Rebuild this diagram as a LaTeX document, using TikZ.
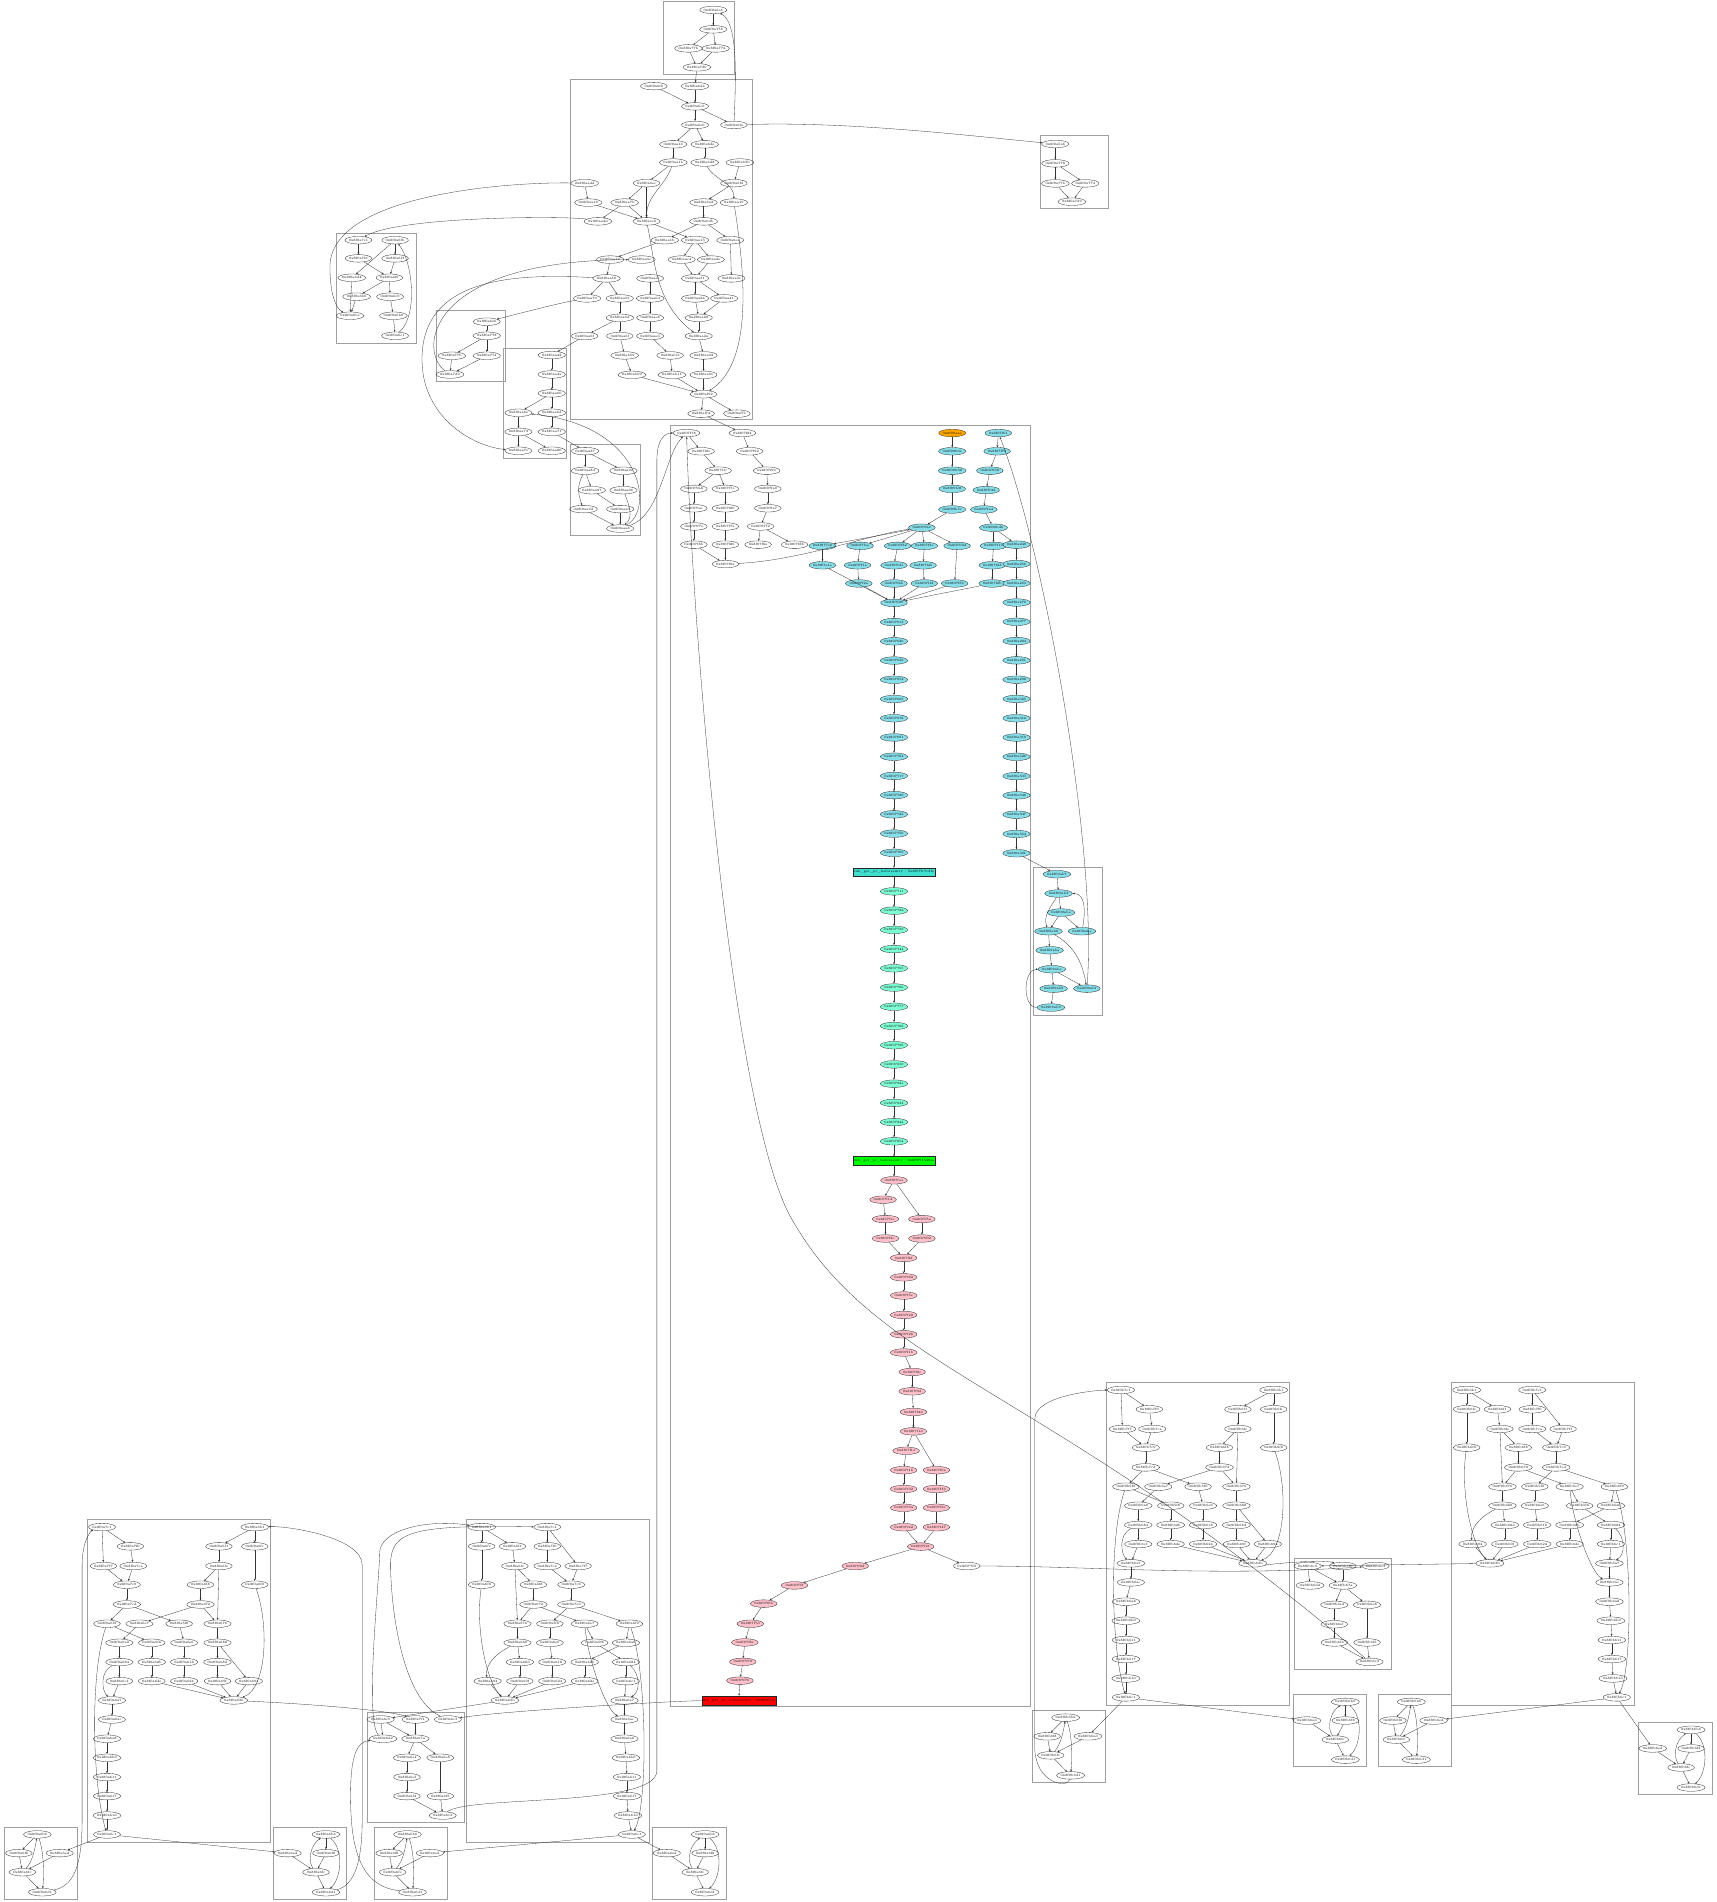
\documentclass[tikz,border=0pt]{standalone}
\usetikzlibrary{shapes.geometric,arrows.meta}
\definecolor{cyf}{HTML}{88DEE8}
\definecolor{mif}{HTML}{7FFFD4}
\definecolor{pkf}{HTML}{FFC0CB}
\definecolor{orf}{HTML}{FFA500}
\definecolor{tqf}{HTML}{40E0D0}
\definecolor{grf}{HTML}{00FF00}
\definecolor{rdf}{HTML}{FF0000}
\tikzset{
 nd/.style={ellipse,draw=black!85,line width=0.25pt,inner sep=0pt,minimum width=22pt,minimum height=6.2pt,font=\fontsize{2.7}{3}\selectfont},
 cy/.style={nd,fill=cyf},
 mi/.style={nd,fill=mif},
 pk/.style={nd,fill=pkf},
 orn/.style={nd,fill=orf},
 bx/.style={rectangle,draw=black!85,line width=0.25pt,inner sep=0.5pt,minimum width=66pt,minimum height=7pt,font=\fontsize{2.7}{3}\selectfont},
 e/.style={-{Stealth[length=1.8pt,width=1.5pt]},line width=0.25pt,draw=black!80},
 cl/.style={draw=gray!75,line width=0.6pt},
}
\newcommand\N[5][nd]{\node[#1] (#2) at (#3,#4) {#5};}
\newcommand\E[1]{\foreach \a/\b in {#1} \draw[e] (\a) -- (\b);}
\newcommand\ClI[4]{%
 \draw[cl] ({72.2+#2},{1252.8+#3}) rectangle ({222.7+#2},{1518.7+#3});
 \foreach \n/\x/\y/\l in {1/84.1/1258.9/7c1,2/107.5/1274.8/7f0,3/85.3/1291/7f7,4/109.9/1291/7ca,5/104.6/1306.4/7c9,6/104.6/1322.7/7cd,7/88.2/1338.6/6f9,8/114.9/1338.6/6e7,9/147.7/1338.6/5f0,10/98.4/1354.3/6a0,11/125.1/1354.3/5f8,12/151.8/1354.3/6e6,13/98.4/1370.2/684,14/125.1/1370.2/62b,15/151.8/1370.2/618,16/98.4/1385.9/6c1,17/125.1/1385.9/62e,18/151.8/1385.9/624,19/92.3/1401.8/6a7,20/92.3/1417.5/6ac,21/88.2/1433.4/6a8,22/88.2/1449.1/6b0,23/88.2/1465/611,24/88.2/1480.7/617,25/88.2/1496.7/61d,26/88.2/1512.3/6c1,27/210/1258.9/6b1,28/180.5/1274.8/6f1,29/210/1274.8/6fc,30/180.5/1291/6fe,31/165.3/1306.4/6f8,32/210/1306.4/6f0,33/165.3/1322.7/672,34/179.3/1338.6/676,35/179.3/1354.3/688,36/179.3/1370.2/68d,37/179.3/1385.9/69f,38/205.1/1385.9/694,39/192.8/1401.8/63b}
  {\node[nd] (#1\n) at ({\x+#2},{\y+#3}) {#4\l};}
 \foreach \a/\b in {1/2,1/3,2/4,3/5,4/5,5/6,6/7,6/9,27/28,27/29,28/30,30/31,31/33,33/8,33/34,7/11,8/10,9/12,34/35,10/13,11/14,12/15,35/36,35/38,13/16,14/17,15/18,36/37,16/19,17/39,18/39,37/39,38/39,19/20,20/21,21/22,22/23,23/24,24/25,25/26}
  {\draw[e] (#1\a) -- (#1\b);}
 \draw[e] (#130) -- (#134);
 \draw[e] (#129) -- (#132);
 \draw[e] (#132) .. controls ({222+#2},{1340+#3}) and ({220+#2},{1392+#3}) .. (#139);
 \draw[e] (#113) .. controls ({82+#2},{1378+#3}) and ({84+#2},{1394+#3}) .. (#119);
 \draw[e] (#17) .. controls ({74+#2},{1380+#3}) and ({76+#2},{1470+#3}) .. (#126);
}
\newcommand\ClN[4]{%
 \draw[cl] ({384.8+#2},{1252.8+#3}) rectangle ({535.3+#2},{1518.7+#3});
 \foreach \n/\x/\y/\l in {1/397.1/1258.9/6b1,2/451.2/1258.9/7c1,3/397.1/1274.8/6fc,4/422.5/1274.8/6f1,5/451.2/1274.8/7f0,6/424.5/1291/6fe,7/451.2/1291/7ca,8/476.6/1291/7f7,9/397.1/1306.4/6f0,10/439.7/1306.4/6f8,11/470.9/1306.4/7c9,12/439.7/1322.7/672,13/470.9/1322.7/7cd,14/426.6/1338.6/676,15/453.3/1338.6/5f0,16/482/1338.6/6e7,17/518.9/1338.6/6f9,18/426.6/1354.3/688,19/453.3/1354.3/6e6,20/490.2/1354.3/5f8,21/516/1354.3/6a0,22/428.6/1370.2/68d,23/455.3/1370.2/618,24/482/1370.2/62b,25/516/1370.2/684,26/402/1385.9/694,27/428.6/1385.9/69f,28/455.3/1385.9/624,29/482/1385.9/62e,30/516/1385.9/6c1,31/416.3/1401.8/63b,32/514.8/1401.8/6a7,33/514.8/1417.5/6ac,34/514.8/1433.4/6a8,35/516/1449.1/6b0,36/516.8/1465/611,37/516.8/1480.7/617,38/517.7/1496.7/61d,39/520.9/1512.3/6c1}
  {\node[nd] (#1\n) at ({\x+#2},{\y+#3}) {#4\l};}
 \foreach \a/\b in {1/3,1/4,4/6,6/10,10/12,12/14,12/16,2/5,2/8,5/7,7/11,8/11,11/13,13/15,13/17,14/18,18/22,15/19,19/23,23/28,16/20,17/21,21/24,20/25,22/27,24/29,25/30,26/31,27/31,28/31,29/31,30/32,32/33,33/34,34/35,35/36,36/37,37/38,38/39}
  {\draw[e] (#1\a) -- (#1\b);}
 \draw[e] (#13) -- (#19);
 \draw[e] (#16) -- (#114);
 \draw[e] (#19) .. controls ({392+#2},{1340+#3}) and ({400+#2},{1385+#3}) .. (#131);
 \draw[e] (#118) .. controls ({405+#2},{1365+#3}) and ({400+#2},{1375+#3}) .. (#126);
 \draw[e] (#116) .. controls ({485+#2},{1370+#3}) and ({500+#2},{1410+#3}) .. (#133);
 \draw[e] (#117) .. controls ({534+#2},{1380+#3}) and ({534+#2},{1490+#3}) .. (#139);
 \draw[e] (#125) .. controls ({528+#2},{1380+#3}) and ({528+#2},{1395+#3}) .. (#132);
}
\newcommand\SmA[4]{%
 \draw[cl] (#2,#3) rectangle ++(60.3,59.1);
 \foreach \n/\x/\y/\l in {1/27.5/6/6b6,2/12.3/21.4/6f8,3/45.9/21.4/6ed,4/15.2/37.1/6fc,5/31.6/53.6/6d1}
  {\node[nd] (#1\n) at ({#2+\x},{#3+\y}) {#4\l};}
 \foreach \a/\b in {1/2,2/4,3/4,4/5}{\draw[e] (#1\a) -- (#1\b);}
 \draw[e] (#14) .. controls ({#2+24},{#3+28}) and ({#2+26},{#3+15}) .. (#11);
 \draw[e] (#11) .. controls ({#2+33},{#3+20}) and ({#2+33},{#3+40}) .. (#15);
}
\newcommand\SmB[4]{%
 \draw[cl] (#2,#3) rectangle ++(60.3,59.1);
 \foreach \n/\x/\y/\l in {1/43.1/6/6b6,2/43.1/21.4/6f8,3/11.5/21.4/6ed,4/34.9/37.1/6fc,5/43.1/53.6/6d1}
  {\node[nd] (#1\n) at ({#2+\x},{#3+\y}) {#4\l};}
 \foreach \a/\b in {1/2,2/4,3/4,4/5}{\draw[e] (#1\a) -- (#1\b);}
 \draw[e] (#14) .. controls ({#2+28},{#3+28}) and ({#2+30},{#3+15}) .. (#11);
 \draw[e] (#11) .. controls ({#2+58},{#3+18}) and ({#2+56},{#3+42}) .. (#15);
}
\begin{document}
\begin{tikzpicture}[x=1pt,y=-1pt]
\useasboundingbox (0,0) rectangle (1415,1568);
% ---------------- cluster A
\draw[cl] (547,1.5) rectangle (605.5,61);
\N{a1}{588}{8.2}{0x8f0a6e6}
\N{a2}{588}{24.2}{0x8f0a778}
\N{a3}{567.6}{39.9}{0x8f0a77b}
\N{a4}{590}{39.9}{0x8f0a774}
\N{a5}{574.5}{55.5}{0x8f0a7d9}
\E{a1/a2,a2/a3,a2/a4,a3/a5,a4/a5}
% ---------------- cluster R
\draw[cl] (857.6,111.3) rectangle (913.9,171.8);
\N{r1}{870}{118.7}{0x8f0a6a6}
\N{r2}{870}{134.7}{0x8f0a778}
\N{r3}{870}{151.2}{0x8f0a77b}
\N{r4}{894.7}{151.2}{0x8f0a774}
\N{r5}{883.7}{166.3}{0x8f0a7d9}
\E{r1/r2,r2/r3,r2/r4,r3/r5,r4/r5}
% ---------------- cluster B
\draw[cl] (470,65.5) rectangle (620.5,346);
\N{b1}{539}{71}{0x8f0a6f0}
\N{b2}{573}{71}{0x8f0a6d4}
\N{b3}{573}{87.7}{0x8f0a6c6}
\N{b4}{605}{103}{0x8f0a6fa}
\N{b5}{573}{103}{0x8f0a6e0}
\N{b6}{555}{119}{0x8f0aa16}
\N{b7}{581}{119}{0x8f0a6de}
\N{b8}{555}{134}{0x8f0aa1b}
\N{b9}{581}{134}{0x8f0a6d8}
\N{b10}{610}{134}{0x8f0a63b}
\N{b11}{482}{151}{0x8f0aa4d}
\N{b12}{533}{151}{0x8f0a6ec}
\N{b13}{605}{151}{0x8f0a6f4}
\N{b14}{485}{167}{0x8f0aa10}
\N{b15}{515}{167}{0x8f0aa7b}
\N{b16}{580}{167}{0x8f0a6a2}
\N{b17}{605}{167}{0x8f0aa19}
\N{b18}{493}{182.5}{0x8f0aa4d}
\N{b19}{533}{182.5}{0x8f0aac0}
\N{b20}{580}{182.5}{0x8f0a6db}
\N{b21}{548}{198}{0x8f0aa1b}
\N{b22}{573}{198}{0x8f0aa13}
\N{b23}{602}{198}{0x8f0a6ea}
\N{b24}{503}{214}{0x8f0aa12}
\N{b25}{529}{214}{0x8f0aa5c}
\N{b26}{562}{214}{0x8f0aac4}
\N{b27}{586}{214}{0x8f0aa2e}
\N{b28}{500}{229.5}{0x8f0aa50}
\N{b29}{536}{229.5}{0x8f0aae1}
\N{b30}{573}{229.5}{0x8f0aa31}
\N{b31}{603}{229.5}{0x8f0aa3c}
\N{b32}{484}{246}{0x8f0aa79}
\N{b33}{511}{246}{0x8f0aa53}
\N{b34}{536}{246}{0x8f0aa6d}
\N{b35}{573}{246}{0x8f0aa84}
\N{b36}{597}{246}{0x8f0aa41}
\N{b37}{511}{262}{0x8f0aa5d}
\N{b38}{536}{262}{0x8f0aae4}
\N{b39}{576}{262}{0x8f0aa88}
\N{b40}{482}{277}{0x8f0aa6f}
\N{b41}{511}{277}{0x8f0aa5f}
\N{b42}{536}{277}{0x8f0aaed}
\N{b43}{576}{277}{0x8f0aa2a}
\N{b44}{515}{293}{0x8f0ab59}
\N{b45}{552.5}{293}{0x8f0ab1f}
\N{b46}{580}{293}{0x8f0aa92}
\N{b47}{521}{309}{0x8f0ab09}
\N{b48}{554}{309}{0x8f0ab11}
\N{b49}{580}{309}{0x8f0aa9e}
\N{b50}{580}{325}{0x8f0af92}
\N{b51}{578}{341}{0x8f0af74}
\N{b52}{607.5}{341}{0x8f0af71}
\E{a5/b2,b1/b3,b2/b3,b3/b4,b3/b5,b5/b6,b5/b7,b6/b8,b7/b9,b8/b12,b12/b15,b12/b19,b15/b18,b15/b19,b14/b19,b11/b14,b10/b13,b13/b16,b16/b20,b20/b21,b20/b23,b19/b22,b21/b24,b22/b26,b22/b27,b23/b31,b24/b28,b28/b32,b28/b33,b29/b34,b30/b35,b30/b36,b33/b37,b34/b38,b35/b39,b36/b39,b37/b40,b37/b41,b38/b42,b39/b43,b41/b44,b42/b45,b43/b46,b44/b47,b45/b48,b46/b49,b47/b50,b48/b50,b49/b50,b50/b51,b50/b52,b26/b30,b27/b30}
\draw[e] (b8) to[out=-110,in=90] (b19);
\draw[e] (b9) to[out=-60,in=90] (b17);
\draw[e] (b17) .. controls (615,230) and (620,300) .. (b50);
\draw[e] (b19) .. controls (540,215) and (540,250) .. (b43);
\draw[e] (b4) .. controls (607,60) and (608,18) .. (a1);
\draw[e] (b4) .. controls (700,100) and (800,112) .. (r1);
% ---------------- cluster C
\draw[cl] (277.6,192.4) rectangle (343,283.1);
\N{c1}{295.5}{198}{0x8f0a7c1}
\N{c2}{325.7}{198}{0x8f0a6fb}
\N{c3}{295.5}{213}{0x8f0a7bf}
\N{c4}{325.7}{213}{0x8f0a6f3}
\N{c5}{290}{229}{0x8f0a6d4}
\N{c6}{321}{229}{0x8f0a6f9}
\N{c7}{294}{244.6}{0x8f0a6b6}
\N{c8}{321.6}{244.6}{0x8f0a6c0}
\N{c9}{288.6}{260.3}{0x8f0a6bc}
\N{c10}{324.3}{260.3}{0x8f0a6b0}
\N{c11}{325.7}{276.8}{0x8f0a6c1}
\E{c1/c3,c3/c6,c2/c4,c2/c5,c4/c6,c6/c7,c6/c8,c5/c9,c7/c9,c8/c10,c10/c11}
\draw[e] (c11) .. controls (345,260) and (340,215) .. (c2);
\draw[e] (b18) .. controls (470,178) and (330,178) .. (c1);
\draw[e] (b11) .. controls (420,150) and (272,160) .. (272,220) .. controls (272,245) and (278,255) .. (c9);
% ---------------- cluster D
\draw[cl] (360,255.6) rectangle (416.4,314.7);
\N{d1}{401.3}{265.2}{0x8f0a6e6}
\N{d2}{401.3}{276.8}{0x8f0a778}
\N{d3}{372.5}{293.3}{0x8f0a77b}
\N{d4}{401.3}{293.3}{0x8f0a774}
\N{d5}{371}{308.7}{0x8f0a7d9}
\E{d1/d2,d2/d3,d2/d4,d3/d5,d4/d5}
\draw[e] (b32) .. controls (460,250) and (430,258) .. (d1);
\draw[e] (d5) .. controls (345,290) and (350,215) .. (b25);
% ---------------- cluster E
\draw[cl] (415,287.2) rectangle (467.3,377.9);
\N{e1}{454.9}{292.7}{0x8f0aa42}
\N{e2}{454.9}{308.7}{0x8f0aa4a}
\N{e3}{454.9}{324.3}{0x8f0aa60}
\N{e4}{427.4}{340.3}{0x8f0aa6e}
\N{e5}{454.9}{340.3}{0x8f0aa6d}
\N{e6}{427.4}{356}{0x8f0aa73}
\N{e7}{454.9}{356}{0x8f0aa71}
\N{e8}{427.4}{371.6}{0x8f0aa7e}
\N{e9}{454.9}{371.6}{0x8f0aa80}
\E{e1/e2,e2/e3,e3/e4,e3/e5,e4/e6,e5/e7,e6/e8,e6/e9}
\draw[e] (b40) -- (e1);
\draw[e] (b28) .. controls (420,225) and (345,230) .. (348,300) .. controls (350,345) and (390,368) .. (e8);
% ---------------- cluster F
\draw[cl] (470,366.1) rectangle (528.3,441.2);
\N{f1}{482.4}{371.9}{0x8f0aa87}
\N{f2}{482.4}{388.1}{0x8f0aa8d}
\N{f3}{514}{388.1}{0x8f0aa92}
\N{f4}{487.9}{404.1}{0x8f0aa97}
\N{f5}{514}{404.1}{0x8f0aa96}
\N{f6}{481}{419.7}{0x8f0aa9d}
\N{f7}{511.3}{419.7}{0x8f0aaa0}
\N{f8}{511.3}{435.7}{0x8f0aaa8}
\E{e7/f1,f1/f2,f1/f3,f2/f4,f3/f5,f4/f7,f6/f8,f7/f8}
\draw[e] (f2) to[out=-120,in=110] (f6);
\draw[e] (f5) to[out=-70,in=40] (f8);
\draw[e] (f8) .. controls (540,420) and (530,350) .. (e4);
% ---------------- central cluster G
\draw[cl] (553,350.5) rectangle (849.4,1407);
\N{g1}{566}{357}{0x8f07f78}
\N{g2}{612}{357}{0x8f07f82}
\N{g3}{578}{372}{0x8f07f8e}
\N{g4}{618}{372}{0x8f07f92}
\N{g5}{592}{388}{0x8f07f1c}
\N{g6}{632}{388}{0x8f07f96}
\N{g7}{572}{403}{0x8f07fa8}
\N{g8}{598}{403}{0x8f07f7e}
\N{g9}{633}{403}{0x8f07fa0}
\N{g10}{572}{419}{0x8f07fac}
\N{g11}{598}{419}{0x8f07f80}
\N{g12}{633}{419}{0x8f07fa7}
\N{g13}{572}{434}{0x8f07f7e}
\N{g14}{598}{434}{0x8f07f7a}
\N{g15}{627}{434}{0x8f07f72}
\N{g16}{572}{449}{0x8f07f8b}
\N{g17}{598}{449}{0x8f07f86}
\N{g18}{625}{449}{0x8f07f8a}
\N{g19}{655}{449}{0x8f07f88}
\N{g20}{598}{465}{0x8f07f9a}
\E{g1/g3,g2/g4,g3/g5,g4/g6,g5/g7,g5/g8,g7/g10,g8/g11,g6/g9,g9/g12,g12/g15,g10/g13,g11/g14,g13/g16,g14/g17,g15/g18,g15/g19,g16/g20,g17/g20}
\draw[e] (b51) -- (g2);
\draw[e] (f8) .. controls (545,425) and (548,375) .. (g1);
% cyan part
\N[orn]{k1}{785}{357}{0x8f09aae}
\N[cy]{k2}{785}{372}{0x8f09b0e}
\N[cy]{k3}{785}{388}{0x8f09b38}
\N[cy]{k4}{785}{403}{0x8f09b3f}
\N[cy]{k5}{785}{420}{0x8f09b5c}
\N[cy]{q1}{823}{357}{0x8f07f61}
\N[cy]{q2}{822}{372}{0x8f07f70}
\N[cy]{q3}{816}{388}{0x8f07f38}
\N[cy]{q4}{813}{404}{0x8f07f4d}
\N[cy]{q5}{811}{420}{0x8f07fa4}
\N[cy]{ha}{760}{435}{0x8f07fa1}
\N[cy]{hb}{819}{435}{0x8f06bd6}
\foreach \n/\x/\l in {1/678/7e8,2/709/7ee,3/740/f32,4/762/f3c,5/789/f2d,6/819/f19}{\node[cy] (d\n) at (\x,450) {0x8f07\l};}
\foreach \n/\x/\l in {1/678/e1e,2/707/f1a,3/737/f41,4/761/f45,6/818/f23}{\node[cy] (ee\n) at (\x,466) {0x8f07\l};}
\foreach \n/\x/\l in {2/708/f2a,3/737/f4b,4/762/f4f,5/787/f36,6/818/f2b}{\node[cy] (ff\n) at (\x,481) {0x8f07\l};}
\N[cy]{hub}{737}{497}{0x8f07f29}
\E{k1/k2,k2/k3,k3/k4,k4/k5,q1/q2,q2/q3,q3/q4,q4/q5,k5/ha,q5/hb,ha/d1,ha/d2,ha/d3,ha/d4,ha/d5,hb/d6,d1/ee1,d2/ee2,d3/ee3,d4/ee4,d6/ee6,ee2/ff2,ee3/ff3,ee4/ff4,d5/ff5,ee6/ff6,ee1/hub,ff2/hub,ff3/hub,ff4/hub,ff5/hub,ff6/hub}
\draw[e] (g20) .. controls (660,462) and (720,440) .. (ha);
\foreach \i in {0,...,16}{\pgfmathsetmacro\yy{449+\i*15.9}\pgfmathtruncatemacro\ll{249+\i*7}
 \node[cy] (rc\i) at (838,\yy) {0x8f0a\ll};}
\draw[e] (hb) -- (rc0);
\foreach \i [evaluate=\i as \j using int(\i+1)] in {0,...,15}{\draw[e] (rc\i) -- (rc\j);}
\foreach \i in {1,...,13}{\pgfmathsetmacro\yy{497+\i*15.85}\pgfmathtruncatemacro\ll{600+\i*13}
 \node[cy] (cc\i) at (737,\yy) {0x8f07\ll};}
\draw[e] (hub) -- (cc1);
\foreach \i [evaluate=\i as \j using int(\i+1)] in {1,...,12}{\draw[e] (cc\i) -- (cc\j);}
\node[bx,fill=tqf] (box1) at (737,719) {sub\_get\_pc\_beforeentry : 0x8f07fc7c8fe};
\draw[e] (cc13) -- (box1);
\foreach \i in {1,...,14}{\pgfmathsetmacro\yy{719+\i*15.85}\pgfmathtruncatemacro\ll{700+\i*11}
 \node[mi] (mm\i) at (737,\yy) {0x8f07\ll};}
\draw[e] (box1) -- (mm1);
\foreach \i [evaluate=\i as \j using int(\i+1)] in {1,...,13}{\draw[e] (mm\i) -- (mm\j);}
\node[bx,fill=grf] (box2) at (737,957) {sub\_get\_pc\_beforeentry : 0x8f07f1549ee};
\draw[e] (mm14) -- (box2);
\N[pk]{p1}{737}{973}{0x8f07fa1}
\N[pk]{p2}{728}{989}{0x8f07f1d}
\N[pk]{p3}{730}{1005}{0x8f07f1e}
\N[pk]{p4}{760}{1005}{0x8f07f5a}
\N[pk]{p5}{730}{1021}{0x8f07f4c}
\N[pk]{p6}{760}{1021}{0x8f07f02}
\N[pk]{p7}{745}{1037}{0x8f07f6f}
\N[pk]{p8}{745}{1053}{0x8f07f82}
\N[pk]{p9}{745}{1068}{0x8f07f5e}
\N[pk]{p10}{745}{1084}{0x8f07f20}
\N[pk]{p11}{745}{1100}{0x8f07f28}
\N[pk]{p12}{745}{1115}{0x8f07f1b}
\N[pk]{p13}{752}{1131}{0x8f07f0c}
\N[pk]{p14}{752}{1147}{0x8f07f9d}
\N[pk]{p15}{753}{1164}{0x8f07f4d}
\N[pk]{p16}{753}{1180}{0x8f07f1d}
\N[pk]{p17}{747}{1196}{0x8f07f11}
\N[pk]{p18}{745}{1212}{0x8f07f16}
\N[pk]{p19}{772}{1212}{0x8f07f0a}
\N[pk]{p20}{745}{1227.5}{0x8f07f32}
\N[pk]{p21}{772}{1227.5}{0x8f07f36}
\N[pk]{p22}{745}{1243}{0x8f07f3a}
\N[pk]{p23}{772}{1243}{0x8f07f3e}
\N[pk]{p24}{745}{1259}{0x8f07f42}
\N[pk]{p25}{772}{1259}{0x8f07f47}
\N[pk]{p26}{759}{1275}{0x8f07f21}
\N[pk]{p27}{705}{1291}{0x8f07f0d}
\N{w1}{797}{1291}{0x8f077f0}
\N[pk]{p28}{655}{1307}{0x8f07f5f}
\N[pk]{p29}{629.6}{1322}{0x8f07f6b}
\N[pk]{p30}{618.6}{1338.6}{0x8f07f7d}
\N[pk]{p31}{614}{1354}{0x8f07f8e}
\N[pk]{p32}{612.4}{1370}{0x8f07f72}
\N[pk]{p33}{610}{1385.5}{0x8f07f76}
\node[bx,fill=rdf,minimum width=57pt,minimum height=8pt] (box3) at (609,1402) {sub\_get\_pc\_beforeentry : 0x8f07f59};
\E{box2/p1,p1/p2,p2/p3,p1/p4,p3/p5,p4/p6,p5/p7,p6/p7,p7/p8,p8/p9,p9/p10,p10/p11,p11/p12,p12/p13,p13/p14,p14/p15,p15/p16,p16/p17,p17/p18,p16/p19,p18/p20,p19/p21,p20/p22,p21/p23,p22/p24,p23/p25,p24/p26,p25/p26,p26/p27,p26/w1,p27/p28,p28/p29,p29/p30,p30/p31,p31/p32,p32/p33,p33/box3}
% ---------------- cluster H
\draw[cl] (851.6,714.7) rectangle (908.4,837);
\N[cy]{h1}{871.3}{720.7}{0x8f09ab7}
\N[cy]{h2}{872.7}{736.6}{0x8f09ab3}
\N[cy]{h3}{874.7}{752.3}{0x8f09abe}
\N[cy]{h4}{864.4}{767.7}{0x8f09ab8}
\N[cy]{h5}{892}{767.7}{0x8f09abc}
\N[cy]{h6}{865.3}{783.4}{0x8f09aba}
\N[cy]{h7}{867.2}{799}{0x8f09abe}
\N[cy]{h8}{868.6}{815}{0x8f09ab9}
\N[cy]{h9}{896}{815}{0x8f09abf}
\N[cy]{h10}{866.4}{830.6}{0x8f09ab9}
\E{h1/h2,h2/h3,h3/h4,h3/h5,h4/h6,h6/h7,h7/h8,h7/h9,h8/h10}
\draw[e] (h2) to[out=-120,in=110] (h4);
\draw[e] (h5) to[out=80,in=0] (h2);
\draw[e] (h4) to[out=-30,in=100] (h9);
\draw[e] (h10) to[out=180,in=180] (h7);
\draw[e] (rc16) -- (h1);
\draw[e] (h9) .. controls (905,700) and (860,450) .. (q1);
% ---------------- bottom-left clusters
\ClI{I}{0}{0}{0x8f0a}
\ClN{NN}{0}{0}{0x8f0a}
\SmA{J}{3.3}{1506.3}{0x8f0a}
\SmB{K}{225.6}{1506.3}{0x8f0a}
\SmA{M}{308.5}{1506.3}{0x8f0a}
\SmB{W}{538.2}{1506.3}{0x8f0a}
\draw[cl] (302.7,1411.5) rectangle (382.7,1502.2);
\N{m1}{313.8}{1417.5}{0x8f0a6c5}
\N{m2}{342.5}{1417.5}{0x8f0a7f1}
\N{m3}{369.2}{1417.5}{0x8f0a6c3}
\N{m4}{315.8}{1433.4}{0x8f0a6d2}
\N{m5}{342.5}{1433.4}{0x8f0a67a}
\N{m6}{335.5}{1449.1}{0x8f0a6e4}
\N{m7}{363}{1449.1}{0x8f0a6e8}
\N{m8}{335.5}{1465}{0x8f0a6ef}
\N{m9}{335.5}{1480.7}{0x8f0a6f4}
\N{m10}{363}{1480.7}{0x8f0a6f5}
\N{m11}{365}{1496.7}{0x8f0a6c3}
\E{m1/m4,m1/m5,m2/m5,m5/m6,m5/m7,m6/m8,m8/m9,m9/m11,m7/m10,m10/m11}
\draw[e] (I39) .. controls (260,1405) and (320,1410) .. (m2);
\draw[e] (NN31) -- (m1);
\draw[e] (box3) .. controls (560,1402) and (420,1410) .. (m3);
\draw[e] (m3) .. controls (330,1400) and (322,1320) .. (322,1290) .. controls (322,1262) and (340,1257) .. (NN2);
\draw[e] (m4) .. controls (300,1420) and (313,1300) .. (313,1280) .. controls (313,1262) and (350,1252) .. (NN1);
\draw[e] (m11) .. controls (385,1480) and (541.5,1490) .. (541.5,1460) -- (541.5,380) .. controls (541.5,362) and (548,357) .. (g1);
\draw[e] (M5) .. controls (295,1555) and (289,1520) .. (289,1480) .. controls (289,1445) and (295,1436) .. (m4);
\draw[e] (I26) -- (J3);
\draw[e] (I26) -- (K3);
\draw[e] (NN39) -- (M3);
\draw[e] (NN39) -- (W3);
\draw[e] (J5) .. controls (60,1555) and (67.7,1540) .. (67.7,1500) -- (67.7,1290) .. controls (67.7,1270) and (75,1262) .. (I1);
\draw[e] (K5) .. controls (290,1555) and (298.6,1540) .. (298.6,1500) -- (298.6,1290) .. controls (298.6,1268) and (240,1258) .. (I27);
% ---------------- bottom-right clusters
\ClI{P}{840}{-113}{0x8f0b}
\ClN{Q}{812}{-113}{0x8f0b}
\SmA{S}{851}{1410}{0x8f0b}
\SmB{T}{1066}{1397}{0x8f0b}
\SmA{U}{1136}{1397}{0x8f0b}
\SmB{V}{1351}{1420}{0x8f0b}
\draw[cl] (1067,1285) rectangle (1147,1376);
\N{mm1r}{1078}{1291}{0x8f0b6c5}
\N{mm2r}{1107}{1291}{0x8f0b7f1}
\N{mm3r}{1134}{1291}{0x8f0b6c3}
\N{mm4r}{1080}{1307}{0x8f0b6d2}
\N{mm5r}{1107}{1307}{0x8f0b67a}
\N{mm6r}{1100}{1323}{0x8f0b6e4}
\N{mm7r}{1127}{1323}{0x8f0b6e8}
\N{mm8r}{1100}{1339}{0x8f0b6ef}
\N{mm9r}{1100}{1354}{0x8f0b6f4}
\N{mm10r}{1127}{1354}{0x8f0b6f5}
\N{mm11r}{1129}{1370}{0x8f0b6c3}
\E{mm1r/mm4r,mm1r/mm5r,mm2r/mm5r,mm5r/mm6r,mm5r/mm7r,mm6r/mm8r,mm8r/mm9r,mm9r/mm11r,mm7r/mm10r,mm10r/mm11r}
\draw[e] (P39) .. controls (1040,1290) and (1090,1285) .. (mm2r);
\draw[e] (Q31) -- (mm1r);
\draw[e] (w1) .. controls (900,1291) and (1000,1300) .. (mm3r);
\draw[e] (P26) -- (S3);
\draw[e] (P26) -- (T3);
\draw[e] (Q39) -- (U3);
\draw[e] (Q39) -- (V3);
\draw[e] (S5) .. controls (880,1475) and (853,1470) .. (853,1440) -- (853,1170) .. controls (853,1150) and (905,1146) .. (P1);
\draw[e] (mm11r) .. controls (860,1140) and (720,1130) .. (650,1000) .. controls (600,900) and (570,500) .. (g1);
\end{tikzpicture}
\end{document}
